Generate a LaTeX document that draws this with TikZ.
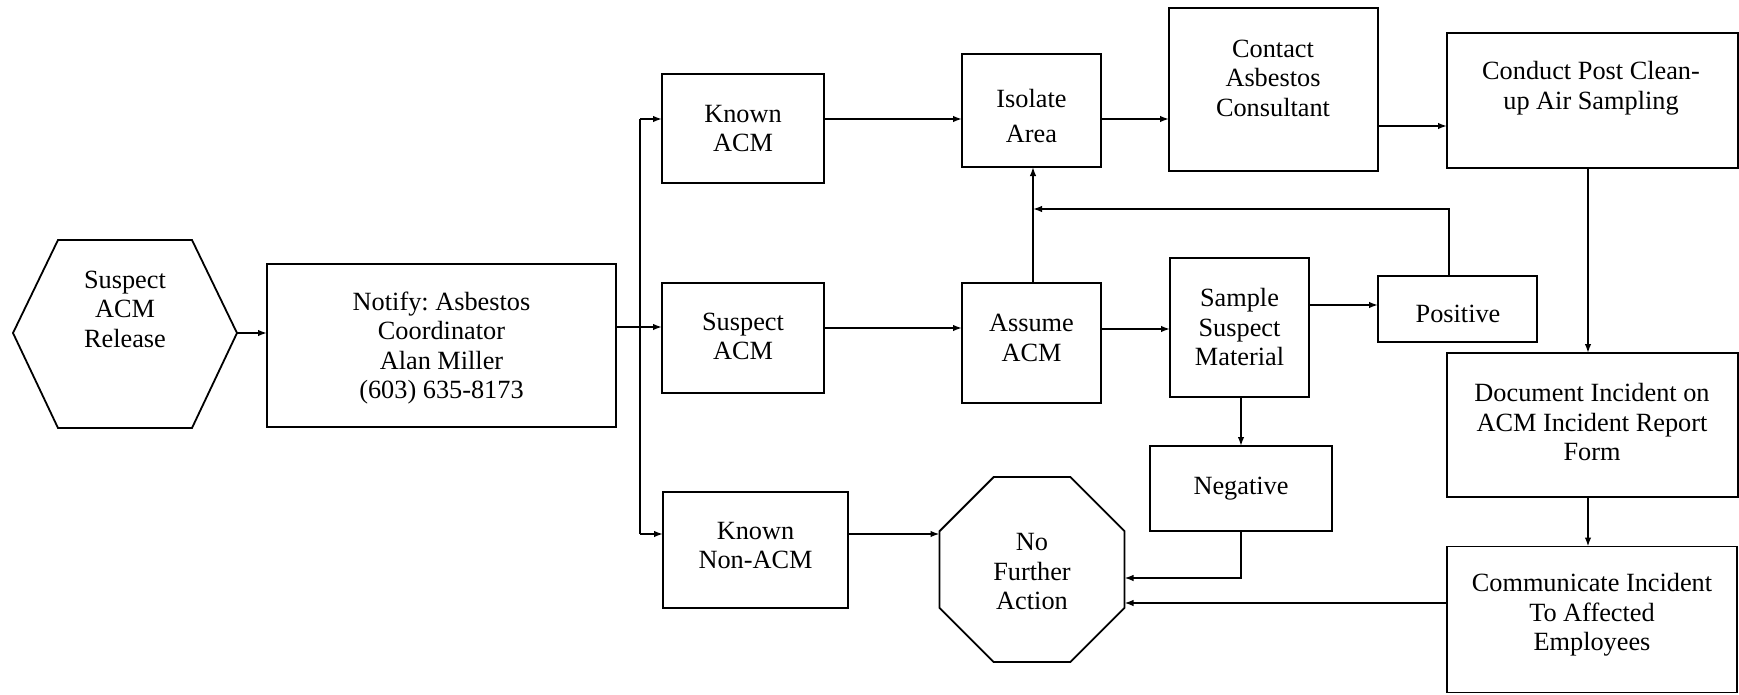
\documentclass[tikz,border=0pt]{standalone}
\usepackage{fontspec}
\setmainfont{Liberation Serif}
\frenchspacing
\usetikzlibrary{arrows.meta,shapes.geometric}
\begin{document}
\begin{tikzpicture}[x=1pt,y=-1pt,
  box/.style={draw,line width=1.8pt,rectangle,inner sep=0pt,outer sep=0pt},
  txt/.style={align=center,inner sep=0pt,font=\fontsize{26.3}{29.5}\selectfont},
  arr/.style={line width=1.6pt,-{Latex[length=9pt,width=6.5pt]}},
  ln/.style={line width=1.6pt}]
\fill[white] (0,0) rectangle (1739,694);
\useasboundingbox (0,0) rectangle (1739,694);

% hexagon (start)
\draw[line width=1.8pt,line join=miter] (13,333) coordinate (hexW) -- (58,240) -- (192,240) -- (237,333) coordinate (hexE) -- (192,428) -- (58,428) -- cycle;
\node[txt] (hext) at (125,309) {Suspect\\ACM\\Release};

% boxes
\node[box,minimum width=349pt,minimum height=163pt] (notify) at (441.5,345.5) {};
\node[box,minimum width=162pt,minimum height=109pt] (knownacm) at (743,128.5) {};
\node[box,minimum width=162pt,minimum height=110pt] (suspectacm) at (743,338) {};
\node[box,minimum width=185pt,minimum height=116pt] (knownnon) at (755.5,550) {};
\node[box,minimum width=139pt,minimum height=113pt] (isolate) at (1031.5,110.5) {};
\node[box,minimum width=209pt,minimum height=163pt] (contact) at (1273.5,89.5) {};
\node[box,minimum width=291pt,minimum height=135pt] (conduct) at (1592.5,100.5) {};
\node[box,minimum width=139pt,minimum height=120pt] (assume) at (1031.5,343) {};
\node[box,minimum width=139pt,minimum height=139pt] (sample) at (1239.5,327.5) {};
\node[box,minimum width=159pt,minimum height=66pt] (positive) at (1457.5,309) {};
\node[box,minimum width=182pt,minimum height=85pt] (negative) at (1241,488.5) {};
\node[box,minimum width=291pt,minimum height=144pt] (document) at (1592.5,425) {};
\node[box,minimum width=290pt,minimum height=146pt] (communicate) at (1592,619.5) {};
\node[draw,line width=1.8pt,regular polygon,regular polygon sides=8,minimum size=200.2pt,inner sep=0pt,outer sep=0pt] (oct) at (1032,569.5) {};

% texts
\node[txt] (notifyt) at (441.5,348) {Notify: Asbestos\\Coordinator\\Alan Miller\\(603) 635-8173};
\node[txt] (knownacmt) at (743,128.5) {Known\\ACM};
\node[txt] (suspectacmt) at (743,336.5) {Suspect\\ACM};
\node[txt] (knownnont) at (755.5,545.5) {Known\\Non-ACM};
\node[txt,font=\fontsize{26.3}{35}\selectfont] (isolatet) at (1031.5,116) {Isolate\\Area};
\node[txt] (contactt) at (1273,78) {Contact\\Asbestos\\Consultant};
\node[txt] (conductt) at (1591,88) {Conduct Post Clean-\\up Air Sampling};
\node[txt] (assumet) at (1031.5,338) {Assume\\ACM};
\node[txt] (samplet) at (1239.5,327) {Sample\\Suspect\\Material};
\node[txt] (positivet) at (1458,314) {Positive};
\node[txt] (negativet) at (1241,488.5) {Negative};
\node[txt] (octt) at (1032,572) {No\\Further\\Action};
\node[txt] (documentt) at (1592,422) {Document Incident on\\ACM Incident Report\\Form};
\node[txt] (communicatet) at (1592,615) {Communicate Incident\\To Affected\\Employees};

% helper coordinates
\coordinate (brT) at (640,119);
\coordinate (brB) at (640,534);
\coordinate (y327) at (0,327);
\coordinate (y126) at (0,126);
\coordinate (y328) at (0,328);
\coordinate (y329) at (0,329);
\coordinate (y305) at (0,305);
\coordinate (y578) at (0,578);
\coordinate (y603) at (0,603);
\coordinate (fb) at (1033,209);
\coordinate (xpos) at (1449,0);
\coordinate (xneg) at (1241,0);
\coordinate (xdoc) at (1588,0);

% connectors
\draw[arr] (hexE) -- (notify.west |- hexE);
\draw[arr] (notify.east |- y327) -- (suspectacm.west |- y327);
\draw[ln] (brT) -- (brB);
\draw[arr] (brT) -- (knownacm.west |- brT);
\draw[arr] (brB) -- (knownnon.west |- brB);
\draw[arr] (knownacm.east |- brT) -- (isolate.west |- brT);
\draw[arr] (isolate.east |- brT) -- (contact.west |- brT);
\draw[arr] (contact.east |- y126) -- (conduct.west |- y126);
\draw[arr] (suspectacm.east |- y328) -- (assume.west |- y328);
\draw[arr] (assume.east |- y329) -- (sample.west |- y329);
\draw[arr] (sample.east |- y305) -- (positive.west |- y305);
\draw[arr] (assume.north -| fb) -- (isolate.south -| fb);
\draw[arr] (positive.north -| xpos) |- (fb);
\draw[arr] (sample.south -| xneg) -- (negative.north -| xneg);
\draw[arr] (negative.south -| xneg) |- (oct.east |- y578);
\draw[arr] (knownnon.east |- brB) -- (oct.west |- brB);
\draw[arr] (communicate.west |- y603) -- (oct.east |- y603);
\draw[arr] (conduct.south -| xdoc) -- (document.north -| xdoc);
\draw[arr] (document.south -| xdoc) -- (communicate.north -| xdoc);
\end{tikzpicture}
\end{document}
